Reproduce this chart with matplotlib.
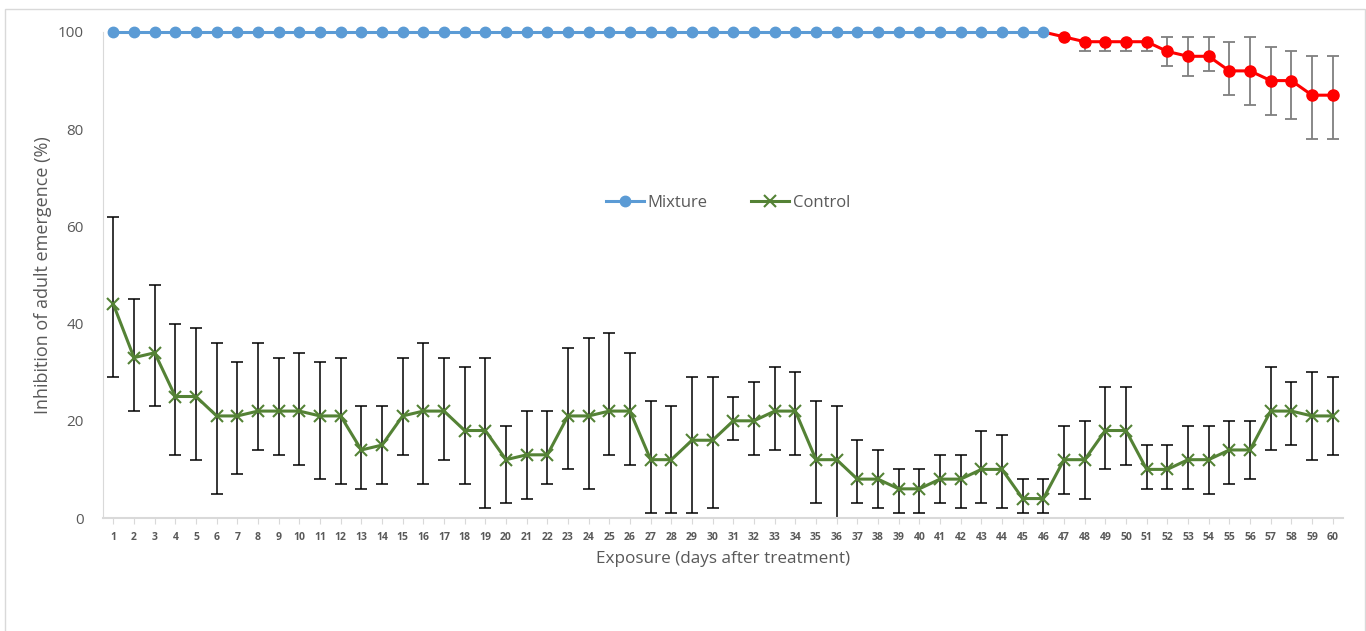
import matplotlib
matplotlib.use("Agg")
import matplotlib.pyplot as plt
from matplotlib.patches import Rectangle
import numpy as np

plt.rcParams['font.family'] = ['Open Sans', 'DejaVu Sans']

days = list(range(1, 61))

mixture = [100] * 46 + [99, 98, 98, 98, 98, 96, 95, 95, 92, 92, 90, 90, 87, 87]
mixture_low = [100] * 46 + [99, 96, 96, 96, 96, 93, 91, 92, 87, 85, 83, 82, 78, 78]
mixture_high = [100] * 46 + [99, 98, 98, 98, 98, 99, 99, 99, 98, 99, 97, 96, 95, 95]

control = [44, 33, 34, 25, 25, 21, 21, 22, 22, 22, 21, 21, 14, 15, 21,
           22, 22, 18, 18, 12, 13, 13, 21, 21, 22, 22, 12, 12, 16, 16,
           20, 20, 22, 22, 12, 12, 8, 8, 6, 6, 8, 8, 10, 10, 4,
           4, 12, 12, 18, 18, 10, 10, 12, 12, 14, 14, 22, 22, 21, 21]
control_low = [29, 22, 23, 13, 12, 5, 9, 14, 13, 11, 8, 7, 6, 7, 13,
               7, 12, 7, 2, 3, 4, 7, 10, 6, 13, 11, 1, 1, 1, 2,
               16, 13, 14, 13, 3, 0, 3, 2, 1, 1, 3, 2, 3, 2, 1,
               1, 5, 4, 10, 11, 6, 6, 6, 5, 7, 8, 14, 15, 12, 13]
control_high = [62, 45, 48, 40, 39, 36, 32, 36, 33, 34, 32, 33, 23, 23, 33,
                36, 33, 31, 33, 19, 22, 22, 35, 37, 38, 34, 24, 23, 29, 29,
                25, 28, 31, 30, 24, 23, 16, 14, 10, 10, 13, 13, 18, 17, 8,
                8, 19, 20, 27, 27, 15, 15, 19, 19, 20, 20, 31, 28, 30, 29]

yticks = [0, 20, 40, 60, 80, 100]

BLUE = '#5B9BD5'
RED = '#FF0000'
GREEN = '#548235'
TEXT = '#595959'

fig = plt.figure(figsize=(13.66, 6.31), dpi=100)
fig.patches.append(Rectangle((5 / 1366, -0.01), 1360 / 1366, 1 - 9 / 631 + 0.01,
                             transform=fig.transFigure, fill=False,
                             edgecolor='#D9D9D9', linewidth=1.0))

ax = fig.add_axes([103 / 1366, 1 - 518 / 631, 1240 / 1366, 486 / 631])

x = np.array(days)
mix = np.array(mixture)
ctl = np.array(control)

# Control series with asymmetric error bars
c_err = [ctl - np.array(control_low), np.array(control_high) - ctl]
ax.errorbar(x, ctl, yerr=c_err, fmt='none', ecolor='black', elinewidth=1.1,
            capsize=4, capthick=1.1, zorder=2, clip_on=False)
ax.plot(x, ctl, color=GREEN, lw=2.2, marker='x', markersize=8,
        markeredgewidth=1.5, zorder=3, clip_on=False, label='Control')

# Mixture series: full inhibition in blue, declining tail in red
m_err = [mix - np.array(mixture_low), np.array(mixture_high) - mix]
tail = slice(47, 60)
ax.errorbar(x[tail], mix[tail], yerr=[m_err[0][tail], m_err[1][tail]],
            fmt='none', ecolor='#7F7F7F', elinewidth=1.3, capsize=4,
            capthick=1.3, zorder=2, clip_on=False)
ax.plot(x[45:], mix[45:], color=RED, lw=2.2, marker='o', markersize=8,
        markevery=list(range(1, 15)), zorder=4, clip_on=False)
ax.plot(x[:46], mix[:46], color=BLUE, lw=2.2, marker='o', markersize=7.5,
        zorder=5, clip_on=False, label='Mixture')

ax.set_xlim(0.5, 60.5)
ax.set_ylim(0, 100)
ax.set_xticks(days)
ax.set_xticklabels([str(d) for d in days], fontsize=7.5, fontweight='bold',
                   color=TEXT)
ax.set_yticks(yticks)
ax.set_yticklabels([str(v) for v in yticks], fontsize=11, color=TEXT)

for s in ['top', 'right']:
    ax.spines[s].set_visible(False)
ax.spines['left'].set_color('#D9D9D9')
ax.spines['bottom'].set_color('#D9D9D9')
ax.spines['bottom'].set_linewidth(1.5)
ax.tick_params(axis='y', length=0, pad=14)
ax.tick_params(axis='x', length=4, direction='out', color='#D9D9D9', pad=6)

ax.set_xlabel('Exposure (days after treatment)', fontsize=12.3, color=TEXT,
              labelpad=6)
ax.set_ylabel('Inhibition of adult emergence (%)', fontsize=13, color=TEXT,
              labelpad=4)

handles, labels = ax.get_legend_handles_labels()
order = [labels.index('Mixture'), labels.index('Control')]
leg = ax.legend([handles[i] for i in order], [labels[i] for i in order],
                loc='center', bbox_to_anchor=(728 / 1366, 1 - 203 / 631),
                bbox_transform=fig.transFigure, ncol=2, frameon=False,
                fontsize=12, handlelength=2.3, columnspacing=2.6,
                handletextpad=0.2)
for t in leg.get_texts():
    t.set_color(TEXT)

fig.savefig('out.png', dpi=100)
